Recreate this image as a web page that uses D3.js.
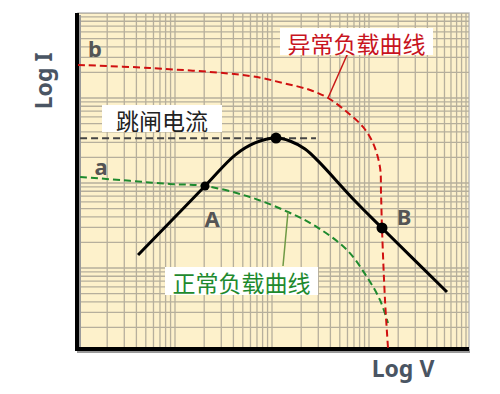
<!DOCTYPE html>
<html>
<head>
<meta charset="utf-8">
<script src="https://cdn.jsdelivr.net/npm/d3@7"></script>
<style>
  body { margin: 0; background: #fff; }
  text { font-family: "Noto Sans", "Noto Sans CJK SC", sans-serif; }
</style>
</head>
<body>
<div id="chart"></div>
<script>
// curve values: [V, I]
const normalLoad = [[1.05, 118], [3.44, 106], [8.87, 97.3], [20.4, 92.3], [59.3, 68.4], [146, 45.6],
    [291, 30.3], [593, 16.3], [953, 7.83], [1297, 4.21], [1570, 2.25]];
const abnormalLoad = [[1, 2443], [5.52, 2254], [59.3, 1816], [130, 1500], [247, 1242], [378, 1000],
    [593, 684], [867, 456], [1099, 296], [1297, 154], [1330, 76.2], [1361, 29.6], [1462, 4.21], [1570, 1.15]];
const deviceCurve = [[4.16, 14.2], [20.4, 92.3], [41.6, 213], [66.8, 296], [110, 338], [153, 312],
    [219, 251], [298, 182], [718, 61.4], [1361, 29.6], [6368, 5.22]];
const keyPoints = [[20.4, 92.3], [110, 338], [1361, 29.6]];
const tripCurrent = 335;
const tripRange = [1.05, 284];
const gridMultipliers = [1, 2, 3, 4, 5, 6, 7, 8, 9];
const decades = [0, 1, 2, 3];

const width = 500, height = 394;
const plot = { left: 78, right: 469, top: 13, bottom: 348 };

const svg = d3.select("#chart").append("svg")
    .attr("width", width)
    .attr("height", height);

const x = d3.scaleLog().domain([1, 10000]).range([78, 466]);
const y = d3.scaleLog().domain([1, 10000]).range([353, 13]);

svg.append("defs").append("clipPath").attr("id", "clip")
    .append("rect")
    .attr("x", plot.left).attr("y", plot.top)
    .attr("width", plot.right - plot.left).attr("height", plot.bottom - plot.top);

svg.append("rect")
    .attr("x", plot.left).attr("y", plot.top)
    .attr("width", plot.right - plot.left).attr("height", plot.bottom - plot.top)
    .attr("fill", "#fdf1cb")
    .attr("stroke", "#bdbdbd")
    .attr("stroke-width", 1.5);

const gridVals = [];
decades.forEach(k => gridMultipliers.forEach(m => gridVals.push(m * Math.pow(10, k))));
gridVals.push(10000);

const grid = svg.append("g").attr("clip-path", "url(#clip)")
    .attr("stroke", "#b6af9c").attr("stroke-width", 1.3);

grid.selectAll(".gx").data(gridVals).enter().append("line")
    .attr("x1", d => x(d)).attr("x2", d => x(d))
    .attr("y1", plot.top).attr("y2", plot.bottom);

grid.selectAll(".gy").data(gridVals).enter().append("line")
    .attr("y1", d => y(d)).attr("y2", d => y(d))
    .attr("x1", plot.left).attr("x2", plot.right);

// axes with a soft shadow
svg.append("path")
    .attr("d", `M${plot.left + 1},${plot.top + 2}V${plot.bottom + 3}H${plot.right + 1}`)
    .attr("fill", "none").attr("stroke", "#9a9a9a").attr("stroke-width", 4);
svg.append("path")
    .attr("d", `M${plot.left - 1},${plot.top}V${plot.bottom + 1}H${plot.right}`)
    .attr("fill", "none").attr("stroke", "#000").attr("stroke-width", 4);

const line = d3.line()
    .x(d => x(d[0]))
    .y(d => y(d[1]))
    .curve(d3.curveCatmullRom.alpha(0.5));

const curves = svg.append("g").attr("clip-path", "url(#clip)");

curves.append("line")
    .attr("x1", x(tripRange[0])).attr("x2", x(tripRange[1]))
    .attr("y1", y(tripCurrent)).attr("y2", y(tripCurrent))
    .attr("stroke", "#444").attr("stroke-width", 2)
    .attr("stroke-dasharray", "7,4");

curves.append("path").datum(normalLoad)
    .attr("d", line)
    .attr("fill", "none").attr("stroke", "#1e8a2e").attr("stroke-width", 2)
    .attr("stroke-dasharray", "7,4");

curves.append("path").datum(abnormalLoad)
    .attr("d", line)
    .attr("fill", "none").attr("stroke", "#d01010").attr("stroke-width", 2)
    .attr("stroke-dasharray", "7,4");

curves.append("path").datum(deviceCurve)
    .attr("d", line)
    .attr("fill", "none").attr("stroke", "#000").attr("stroke-width", 3)
    .attr("stroke-linejoin", "round");

svg.selectAll(".dot").data(keyPoints).enter().append("circle")
    .attr("cx", d => x(d[0]))
    .attr("cy", d => y(d[1]))
    .attr("r", (d, i) => i === 0 ? 4.5 : 5.5)
    .attr("fill", "#000");

// leader lines
svg.append("line")
    .attr("x1", 347).attr("y1", 55).attr("x2", 328).attr("y2", 98)
    .attr("stroke", "#c81818").attr("stroke-width", 1.5);
svg.append("line")
    .attr("x1", 288).attr("y1", 212).attr("x2", 283).attr("y2", 266)
    .attr("stroke", "#6f9a45").attr("stroke-width", 1.5);

// label boxes
const boxes = [
    { text: "跳闸电流", x: 102, y: 105, w: 120, h: 27, color: "#222" },
    { text: "异常负载曲线", x: 280, y: 28, w: 153, h: 27, color: "#c8141e" },
    { text: "正常负载曲线", x: 165, y: 267, w: 153, h: 28, color: "#1e8a2e" }
];
boxes.forEach(b => {
    svg.append("rect")
        .attr("x", b.x).attr("y", b.y).attr("width", b.w).attr("height", b.h)
        .attr("fill", "#fff");
    svg.append("text")
        .attr("x", b.x + b.w / 2).attr("y", b.y + b.h / 2 + 1)
        .attr("text-anchor", "middle")
        .attr("dominant-baseline", "central")
        .style("font-family", "'Noto Sans CJK SC', sans-serif")
        .style("font-size", "23px")
        .attr("fill", b.color)
        .text(b.text);
});

const letters = [
    { t: "b", x: 95, y: 57 },
    { t: "a", x: 101, y: 175 },
    { t: "A", x: 212, y: 227 },
    { t: "B", x: 404, y: 225 }
];
letters.forEach(l => {
    svg.append("text")
        .attr("x", l.x).attr("y", l.y)
        .attr("text-anchor", "middle")
        .style("font-size", "22px").style("font-weight", "bold")
        .attr("fill", "#555")
        .text(l.t);
});

svg.append("text")
    .attr("transform", "translate(52,81) rotate(-90)")
    .attr("text-anchor", "middle")
    .style("font-size", "23px").style("font-weight", "bold")
    .attr("fill", "#4a5563")
    .text("Log I");

svg.append("text")
    .attr("x", 403).attr("y", 377)
    .attr("text-anchor", "middle")
    .style("font-size", "23px").style("font-weight", "bold")
    .attr("fill", "#4a5563")
    .text("Log V");
</script>
</body>
</html>
